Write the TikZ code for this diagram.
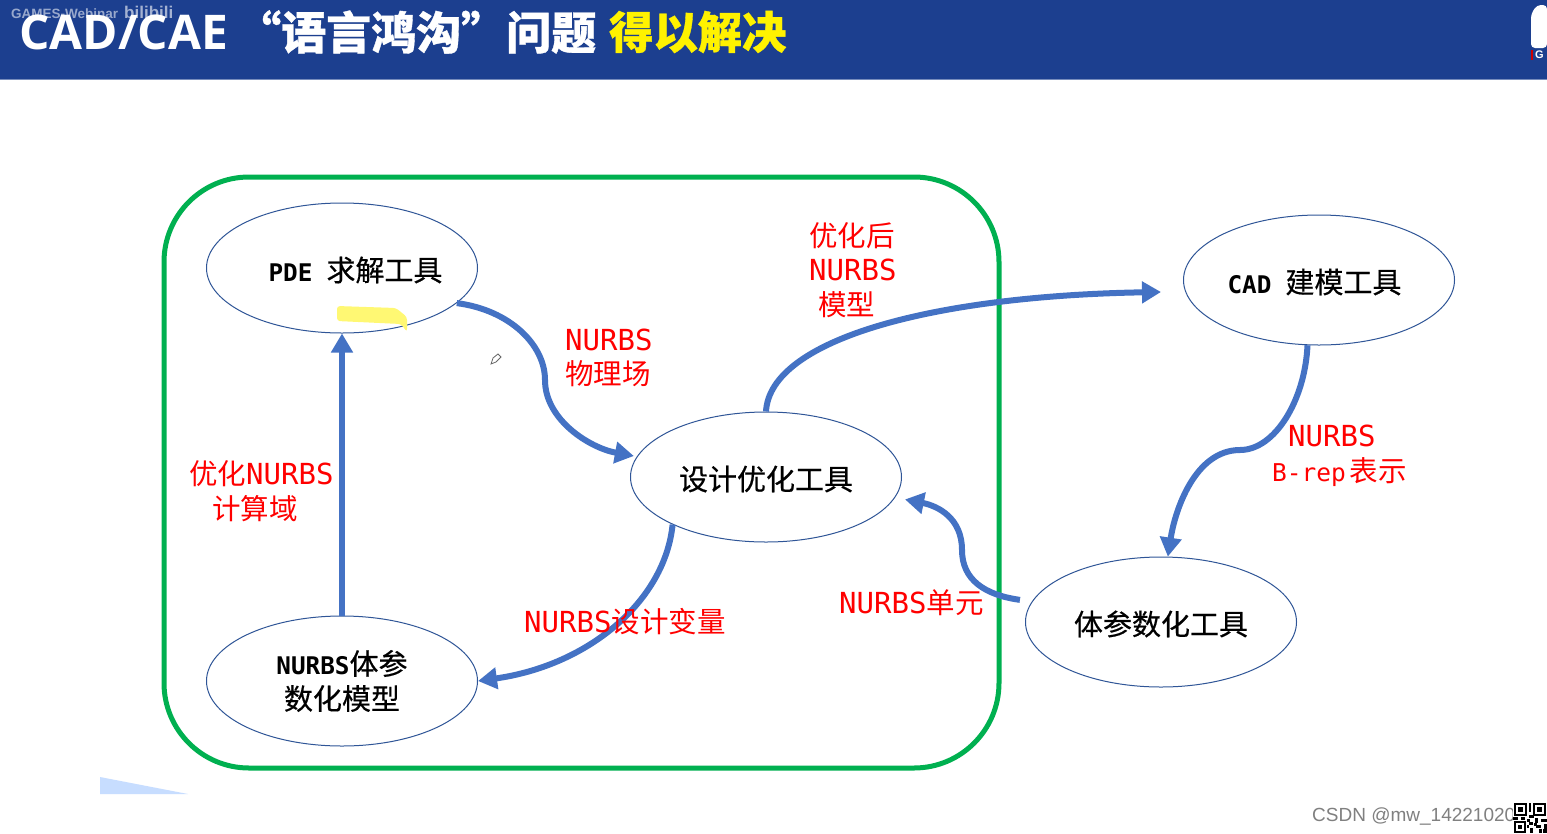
\documentclass[tikz,border=0pt]{standalone}
\usepackage{fontspec}
\usepackage{xcolor}
\usetikzlibrary{shapes.geometric, arrows.meta, positioning}
\setmainfont{Liberation Sans}
\newfontfamily\cjk{Noto Sans CJK SC}
\newfontfamily\cjkhead[BoldFeatures={FakeBold=0.8}]{Noto Sans CJK SC}
\newfontfamily\cjkmid[FakeBold=0.5]{Noto Sans CJK SC}
\newfontfamily\monolat{DejaVu Sans Mono}
\newfontfamily\headlat{Open Sans}
\definecolor{banner}{HTML}{1C3F8F}
\definecolor{frameline}{HTML}{00B050}
\definecolor{flow}{HTML}{4472C4}
\definecolor{rim}{HTML}{2F5597}
\newcommand{\blk}[1]{{\monolat\bfseries\fontsize{24.3}{24}\selectfont #1}}
\newcommand{\rlat}[1]{{\monolat\fontsize{29}{29}\selectfont #1}}
\newcommand{\slat}[1]{{\monolat\fontsize{24.5}{29}\selectfont #1}}
\newcommand{\drop}[1]{\makebox[0pt]{\raisebox{-13pt}[0pt][0pt]{#1}}}

\begin{document}
\begin{tikzpicture}[x=1pt, y=-1pt, on grid]
        \tikzstyle{tool} = [ellipse, draw=rim, line width=1pt, minimum width=271pt, minimum height=130pt, align=center, inner sep=0pt, font=\cjkmid\fontsize{29}{35}\selectfont]
        \tikzstyle{note} = [anchor=west, align=left, inner sep=0pt, text=red, font=\cjk\fontsize{28.5}{34.5}\selectfont]
        \tikzstyle{line} = [draw=flow, line width=6pt, -{Triangle[length=19pt,width=21pt]}]
        \tikzstyle{headline} = [anchor=west, inner sep=0pt, font=\cjkhead\bfseries\fontsize{45}{45}\selectfont]

        \useasboundingbox (0,0) rectangle (1547,833);
        \fill [white] (0,0) rectangle (1547,833);

        % banner
        \fill [banner] (0,0) rectangle (1547,79);
        \fill [banner!60!white] (0,79) rectangle (1547,80);
        \node [headline, text=white, font=\headlat\bfseries\fontsize{47.8}{48}\selectfont] (titlea) at (19,32) {CAD/CAE};
        \node [headline, text=white] (titleb) at (236,32) {“语言鸿沟”问题};
        \node [headline, text=yellow, font=\cjkhead\bfseries\fontsize{44.3}{45}\selectfont] (titlec) at (609,32) {得以解决};
        \node [anchor=west, inner sep=0pt, text=white, opacity=.55, font=\bfseries\fontsize{13.5}{13}\selectfont] (games) at (11,14) {GAMES-Webinar};
        \node [anchor=west, inner sep=0pt, text=white, opacity=.6, font=\bfseries\fontsize{17}{17}\selectfont] (bili) at (124,12) {bilibili};
        \fill [white, rounded corners=4pt] (1547,5) -- (1537,5) -- (1531,14) -- (1531,48) -- (1547,48) -- cycle;
        \fill [red!80!black] (1531,50) rectangle (1533,60);
        \node [anchor=west, inner sep=0pt, text=white, font=\bfseries\fontsize{11}{11}\selectfont] (logo) at (1535,55) {G};

        % group frame
        \node [draw=frameline, line width=5pt, rounded corners=85pt, minimum width=835pt, minimum height=591pt] (frame) at (581.5,472.5) {};

        \node [tool] (pde) at (342,268) {\drop{\hspace*{27pt}\blk{PDE}\hspace*{14pt}求解工具}};
        \node [tool, below=413pt of pde] (model) {\blk{NURBS}体参\\数化模型};
        \node [tool, below right=209pt and 424pt of pde] (design) {\drop{设计优化工具}};
        \node [tool, below right=12pt and 977pt of pde] (cad) {\drop{\hspace*{-9pt}\blk{CAD}\hspace*{14pt}建模工具}};
        \node [tool, below right=145pt and 395pt of design] (volume) {\drop{体参数化工具}};
        \coordinate (cadin) at (1161,292);

        % highlight and pen
        \fill [yellow!55!white, rounded corners=3pt] (337,306) -- (396,308) -- (407,317) -- (407,332) -- (401,324) -- (337,321) -- cycle;
        \draw [gray!80!black, line width=.8pt, fill=white] (491,364) -- (493,358) -- (498,354) -- (501,357) -- (496,362) -- cycle;

        \path [line, shorten >=3pt] (pde.-17) .. controls (510,310) and (545,345) .. (545,380) .. controls (545,420) and (590,448) .. (design.171);
        \path [line] (model.north) -- (pde.south);
        \path [line] (design.207) .. controls (665,600) and (590,665) .. (model.east);
        \path [line] (design.north) .. controls (770,340) and (930,296) .. (cadin);
        \path [line] (cad.-100) .. controls (1305,400) and (1275,450) .. (1240,450) .. controls (1195,450) and (1175,510) .. (volume.84);
        \path [line, shorten <=12pt, shorten >=10pt] (volume.171) .. controls (985,595) and (962,580) .. (962,550) .. controls (962,518) and (938,506) .. (design.-9);

        \node [note] (opta) at (809,270) {优化后\\\rlat{NURBS}\\\hspace*{9pt}模型};
        \node [note] (physb) at (565,358) {\rlat{NURBS}\\物理场};
        \node [note] (doma) at (189,491) {优化\rlat{NURBS}\\\hspace*{23pt}计算域};
        \node [note] (varb) at (524,622) {\rlat{NURBS}设计变量};
        \node [note] (unit) at (839,603) {\rlat{NURBS}单元};
        \node [note] (brep) at (1272,456) {\hspace*{16pt}\rlat{NURBS}\\\slat{B-rep}\hspace*{4pt}表示};

        % corner bits
        \fill [blue!60!cyan!22!white] (100,777) -- (188,794) -- (100,794) -- cycle;
        \node [anchor=west, inner sep=0pt, text=gray, font=\fontsize{19}{19}\selectfont] (csdn) at (1312,816) {CSDN @mw\_14221020};
        \fill [white] (1513,802) rectangle (1547,833);
        \foreach \cx/\cy/\cw/\ch in {1514/803/13/13, 1533/803/13/13, 1514/821/12/12, 1529/803/2/9, 1529/815/5/3, 1535/818/3/5, 1541/819/6/3, 1529/822/4/3, 1536/825/5/3, 1544/824/3/5, 1530/828/3/5, 1539/829/3/4, 1513/817/5/3, 1521/817/4/3, 1527/819/3/3, 1534/823/3/3, 1543/829/4/4, 1527/825/2/3}
            \fill [black] (\cx,\cy) rectangle ++(\cw,\ch);
        \foreach \cx/\cy/\cw in {1516/805/9, 1535/805/9, 1516/823/8}
            \fill [white] (\cx,\cy) rectangle ++(\cw,\cw);
        \foreach \cx/\cy/\cw in {1518/807/5, 1537/807/5, 1518/825/4}
            \fill [black] (\cx,\cy) rectangle ++(\cw,\cw);
\end{tikzpicture}
\end{document}
